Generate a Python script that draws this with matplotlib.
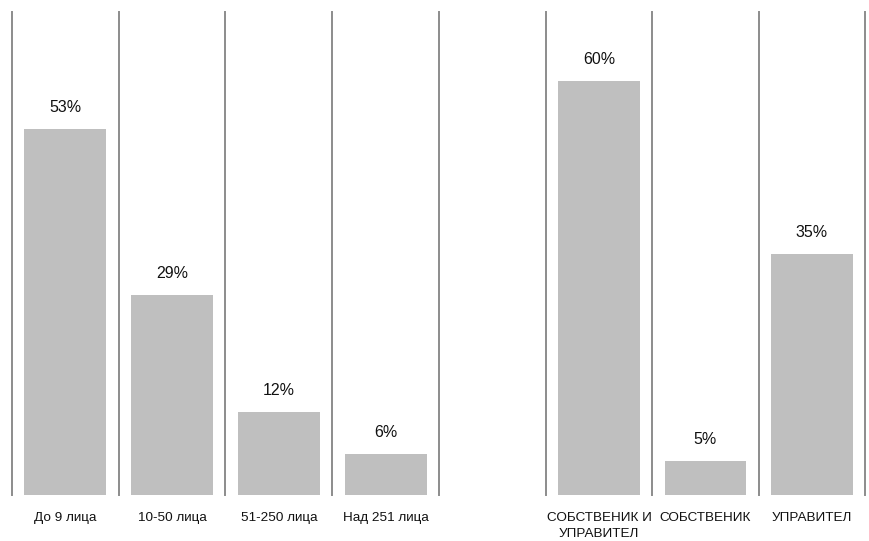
import matplotlib
matplotlib.use("Agg")
import matplotlib.pyplot as plt

plt.rcParams['font.family'] = ['Liberation Sans', 'DejaVu Sans']

size_labels = ["До 9 лица", "10-50 лица", "51-250 лица", "Над 251 лица"]
size_values = [53, 29, 12, 6]

role_labels = ["СОБСТВЕНИК И\nУПРАВИТЕЛ", "СОБСТВЕНИК", "УПРАВИТЕЛ"]
role_values = [60, 5, 35]

BAR = "#bfbfbf"
LINE = "#8c8c8c"

fig = plt.figure(figsize=(8.7, 5.41), dpi=100)
ax1 = fig.add_axes([12/870, 46/541, 427/870, 483/541])
ax2 = fig.add_axes([546/870, 46/541, 319/870, 483/541])

def draw(ax, labels, values):
    n = len(values)
    xs = list(range(n))
    ax.bar(xs, values, width=0.77, color=BAR, zorder=2)
    ax.set_xlim(-0.5, n - 0.5)
    ax.set_ylim(0, 70)
    for i in range(n + 1):
        ax.axvline(i - 0.5, color=LINE, lw=1.4, zorder=1, clip_on=False)
    for x, v in zip(xs, values):
        ax.annotate(f"{v}%", (x, v), xytext=(0, 10), textcoords="offset points",
                    ha="center", va="bottom", fontsize=11.5, color="#111111")
    ax.set_xticks(xs)
    ax.set_xticklabels(labels, fontsize=9.7, color="#111111", linespacing=1.45)
    ax.tick_params(axis="x", length=0, pad=12.5)
    ax.set_yticks([])
    for s in ax.spines.values():
        s.set_visible(False)

draw(ax1, size_labels, size_values)
draw(ax2, role_labels, role_values)

fig.savefig("out.png", dpi=100)
